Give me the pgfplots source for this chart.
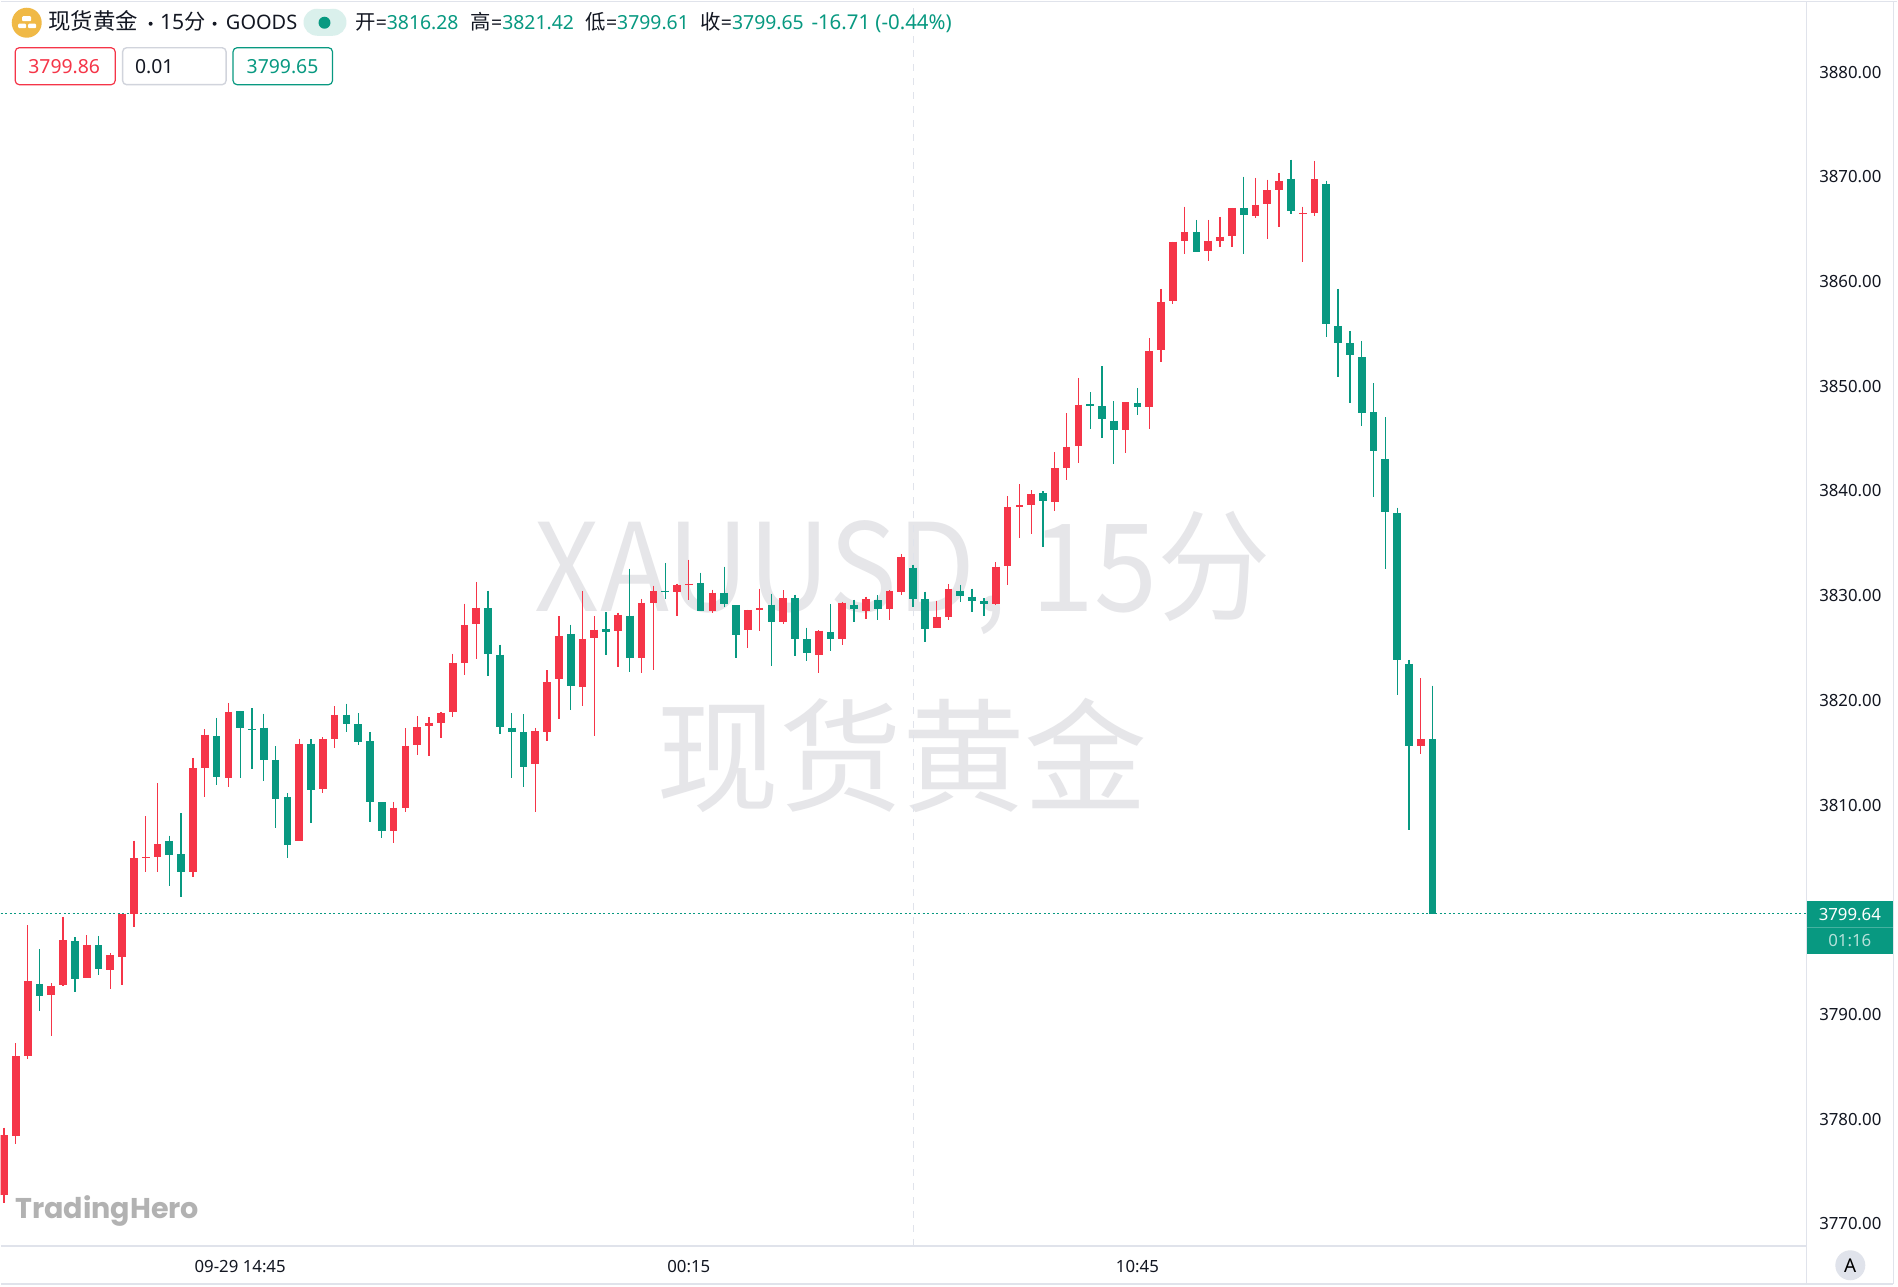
\documentclass[border=0pt]{standalone}
\usepackage{fontspec}
\usepackage{pgfplots}
\usepackage{pgfplotstable}
\pgfplotsset{compat=1.18}
\setmainfont{Noto Sans}
\newfontfamily\cjk{Noto Sans CJK SC}
\newfontfamily\logofont{Poppins}
\definecolor{barup}{HTML}{F53548}
\definecolor{bardown}{HTML}{089981}
\definecolor{frameline}{HTML}{E0E3EB}
\definecolor{boxline}{HTML}{D1D4DC}
\definecolor{ink}{HTML}{131722}
\definecolor{wmark}{HTML}{E6E6E9}
\definecolor{gold}{HTML}{F0B946}
\newcommand{\fs}[1]{\fontsize{#1}{#1}\selectfont}

% i high top bottom low
\pgfplotstableread{
i high top bot low
3 3796.23 3792.88 3791.80 3790.38
6 3797.38 3797.02 3793.44 3792.19
8 3797.51 3796.63 3794.39 3793.77
14 3807.08 3806.58 3805.24 3802.28
15 3809.21 3805.33 3803.63 3801.19
18 3818.32 3816.57 3812.70 3811.91
20 3819.01 3818.97 3817.40 3812.63
21 3819.24 3817.30 3817.20 3813.45
22 3818.74 3817.40 3814.34 3812.30
23 3815.62 3814.31 3810.63 3807.80
24 3811.15 3810.79 3806.16 3804.97
26 3816.31 3815.88 3811.48 3808.29
29 3819.70 3818.65 3817.70 3817.00
30 3818.75 3817.70 3816.05 3815.76
31 3817.00 3816.08 3810.29 3808.41
32 3810.29 3810.29 3807.52 3806.89
41 3830.49 3828.80 3824.44 3822.37
42 3825.33 3824.38 3817.48 3816.78
43 3818.78 3817.41 3816.97 3812.55
44 3818.69 3816.94 3813.60 3811.75
48 3827.24 3826.35 3821.33 3819.10
51 3828.42 3826.86 3826.51 3824.35
53 3832.59 3828.10 3824.03 3822.69
56 3833.13 3830.49 3830.33 3829.72
59 3832.20 3831.19 3828.58 3828.58
61 3832.78 3830.26 3829.18 3828.93
62 3829.09 3829.09 3826.26 3824.09
65 3830.20 3829.15 3827.50 3823.33
67 3830.11 3829.76 3825.91 3824.25
68 3826.96 3825.84 3824.48 3823.78
70 3829.18 3826.54 3825.84 3824.70
72 3829.63 3829.15 3828.71 3827.50
74 3830.04 3829.56 3828.74 3827.66
77 3832.97 3832.68 3829.66 3828.93
78 3830.38 3829.68 3826.85 3825.58
81 3831.02 3830.48 3829.94 3829.40
82 3830.67 3829.91 3829.46 3828.44
83 3829.75 3829.46 3829.24 3828.06
88 3839.96 3839.77 3839.03 3834.64
92 3849.44 3848.27 3848.11 3845.88
93 3851.89 3848.08 3846.84 3845.09
94 3848.55 3846.71 3845.79 3842.57
96 3849.85 3848.42 3847.98 3847.21
101 3865.88 3864.71 3862.86 3862.86
105 3870.02 3867.00 3866.33 3862.58
109 3871.64 3869.83 3866.71 3866.46
112 3869.64 3869.32 3855.90 3854.69
113 3859.30 3855.77 3854.15 3850.84
114 3855.29 3854.12 3852.97 3848.39
115 3854.34 3852.78 3847.42 3846.24
116 3850.27 3847.52 3843.82 3839.41
117 3847.05 3843.06 3837.95 3832.50
118 3838.42 3837.90 3823.82 3820.55
119 3823.87 3823.49 3815.67 3807.66
121 3821.42 3816.28 3799.65 3799.61
}\fallingbars

\pgfplotstableread{
i high top bot low
0 3779.21 3778.49 3772.80 3772.05
1 3787.26 3786.01 3778.39 3777.63
2 3798.53 3793.21 3786.04 3785.78
4 3792.98 3792.75 3791.86 3787.98
5 3799.32 3797.09 3792.81 3792.68
7 3797.55 3796.66 3793.50 3793.50
9 3795.84 3795.64 3794.29 3792.42
10 3799.65 3799.65 3795.54 3792.85
11 3806.62 3804.94 3799.65 3798.40
12 3808.95 3805.04 3804.91 3803.59
13 3812.07 3806.25 3805.07 3803.59
16 3814.50 3813.55 3803.59 3803.13
17 3817.26 3816.74 3813.58 3810.76
19 3819.76 3818.91 3812.56 3811.74
25 3816.34 3815.85 3806.62 3806.62
27 3816.46 3816.27 3811.50 3811.12
28 3819.45 3818.62 3816.33 3815.41
33 3810.32 3809.75 3807.52 3806.41
34 3817.35 3815.66 3809.75 3809.30
35 3818.49 3817.44 3815.70 3814.77
36 3818.37 3817.86 3817.54 3814.71
37 3818.88 3818.81 3817.83 3816.43
38 3824.47 3823.58 3818.88 3818.40
39 3829.25 3827.18 3823.58 3822.44
40 3831.31 3828.86 3827.27 3824.00
45 3817.38 3817.06 3813.88 3809.33
46 3822.88 3821.74 3817.00 3816.14
47 3828.04 3826.13 3822.09 3818.24
49 3830.45 3825.87 3821.26 3819.42
50 3828.04 3826.76 3825.97 3816.62
52 3828.39 3828.16 3826.61 3823.20
54 3829.69 3829.31 3824.03 3822.66
55 3830.96 3830.42 3829.31 3822.89
57 3831.16 3831.03 3830.36 3828.10
58 3833.45 3831.16 3831.06 3829.56
60 3830.58 3830.30 3828.58 3828.36
63 3828.67 3828.64 3826.70 3825.05
64 3830.68 3828.83 3828.61 3826.64
66 3830.52 3829.76 3827.47 3827.31
69 3826.70 3826.64 3824.38 3822.57
71 3829.41 3829.34 3825.84 3825.27
73 3829.91 3829.66 3828.58 3827.82
75 3830.52 3830.46 3828.77 3827.66
76 3833.99 3833.70 3830.36 3830.04
79 3829.52 3827.97 3826.95 3826.95
80 3831.08 3830.67 3827.93 3827.65
84 3833.21 3832.77 3829.21 3829.11
85 3839.48 3838.49 3832.86 3830.99
86 3840.62 3838.62 3838.46 3835.54
87 3840.05 3839.70 3838.68 3835.92
89 3843.68 3842.15 3838.94 3838.05
90 3847.43 3844.22 3842.22 3841.01
91 3850.81 3848.24 3844.29 3842.67
95 3848.46 3848.46 3845.79 3843.66
97 3854.62 3853.35 3847.98 3845.91
98 3859.30 3858.06 3853.42 3852.30
99 3863.82 3863.82 3858.12 3857.84
100 3867.16 3864.71 3863.85 3862.61
102 3865.88 3863.88 3862.93 3861.97
103 3866.20 3864.29 3863.88 3863.34
104 3867.03 3867.03 3864.33 3863.34
106 3869.89 3867.32 3866.30 3866.04
107 3869.73 3868.71 3867.38 3864.07
108 3870.37 3869.61 3868.78 3865.18
110 3867.16 3866.52 3866.42 3861.84
111 3871.51 3869.76 3866.55 3866.27
120 3822.12 3816.33 3815.62 3814.91
}\risingbars

\pgfplotsset{
  bar part/.style 2 args={draw=none, mark=none, forget plot,
    error bars/.cd, y dir=minus, y explicit, error mark=none,
    error bar style={solid, color=#1, line width=#2}},
}

\begin{document}
\begin{tikzpicture}
% picture coordinates in pixels of the reference, origin top left
\begin{scope}[x=0.5pt,y=-0.5pt]
  \path[use as bounding box, fill=white] (0,0) rectangle (1898,1287);
  \node[text=wmark, xscale=0.93, font=\cjk\fs{61}, inner sep=0] at (903,573) {XAUUSD, 15分};
  \node[text=wmark, font=\cjk\fs{61.5}, inner sep=0] at (902,755) {现货黄金};
\end{scope}

\begin{axis}[
  at={(0pt,-623pt)}, anchor=south west,
  scale only axis, width=903.5pt, height=623pt,
  xmin=-0.279, xmax=152.66, ymin=3767.92, ymax=3886.81,
  axis x line*=bottom, axis y line*=right,
  axis line style={-, draw=frameline, line width=0.75pt},
  major tick length=0pt,
  xtick={20,58,96},
  xticklabels={09-29 14:45,00:15,10:45},
  ytick={3770,3780,...,3880},
  /pgf/number format/.cd, fixed, fixed zerofill, precision=2, 1000 sep={}, assume math mode=true,
  /pgfplots/.cd,
  tick label style={font=\fs{8.4}, text=ink},
  xticklabel style={anchor=center, yshift=-10.2pt},
  yticklabel style={anchor=center, xshift=22pt},
  clip=true,
]
  \addplot[frameline, line width=0.6pt, dash pattern=on 3.5pt off 3.5pt, forget plot]
    coordinates {(77,3767.92) (77,3886.81)};
  \addplot[bardown, line width=0.6pt, dash pattern=on 1pt off 1.25pt, forget plot]
    coordinates {(-0.279,3799.64) (152.66,3799.64)};

  \addplot[bar part={barup}{0.65pt}] table[x=i, y=high, y error minus expr=\thisrow{high}-\thisrow{low}] {\risingbars};
  \addplot[bar part={barup}{3.85pt}] table[x=i, y=top, y error minus expr=\thisrow{top}-\thisrow{bot}] {\risingbars};
  \addplot[bar part={bardown}{0.65pt}] table[x=i, y=high, y error minus expr=\thisrow{high}-\thisrow{low}] {\fallingbars};
  \addplot[bar part={bardown}{3.85pt}] table[x=i, y=top, y error minus expr=\thisrow{top}-\thisrow{bot}] {\fallingbars};
\end{axis}

\begin{scope}[x=0.5pt,y=-0.5pt]
  % frame
  \draw[frameline, line width=0.75pt] (0,0.7) -- (1898,0.7);
  \draw[frameline, line width=0.75pt] (0,1284) -- (1894,1284);
  \draw[frameline, line width=0.75pt] (1807,1246) -- (1807,1284);
  \draw[frameline, line width=0.5pt] (1894,0) -- (1894,1284);

  % symbol icon
  \fill[gold] (26,22) circle (15);
  \fill[white, rounded corners=0.5pt] (21.5,15.5) rectangle (30.5,20.5);
  \fill[white, rounded corners=0.5pt] (17.5,23) rectangle (25.5,27.5);
  \fill[white, rounded corners=0.5pt] (27.5,23) rectangle (35.5,27.5);

  % header
  \node[anchor=base west, inner sep=0, text=ink, font=\cjk\fs{11.2}] at (47.5,29) {现货黄金};
  \fill[ink] (150,23) circle (2);
  \node[anchor=base west, inner sep=0, text=ink, font=\fs{10.6}] at (159,29) {15{\cjk 分}};
  \fill[ink] (214,23) circle (2);
  \node[anchor=base west, inner sep=0, text=ink, font=\fs{10}] at (225,29) {GOODS};
  \fill[bardown!15] (316.5,8) rectangle (332.5,35);
  \fill[bardown!15] (316.5,21.5) circle (13.5);
  \fill[bardown!15] (332.5,21.5) circle (13.5);
  \fill[bardown] (324,22) circle (6);

  \foreach \x/\lab/\val in {354.5/开/3816.28, 470/高/3821.42, 585/低/3799.61, 700/收/3799.65}{
    \node[anchor=base west, inner sep=0, text=ink, font=\fs{9.7}] at (\x,29)
      {{\cjk\fs{10.2}\lab}=\textcolor{bardown}{\val}};
  }
  \node[anchor=base west, inner sep=0, text=bardown, font=\fs{10.2}] at (811,29) {-16.71 (-0.44\%)};

  % order boxes
  \draw[barup, line width=0.6pt, rounded corners=2pt] (14.5,47) rectangle (114.5,84);
  \node[text=barup, font=\fs{9.7}, anchor=base, inner sep=0] at (63.5,73) {3799.86};
  \draw[boxline, line width=0.7pt, rounded corners=2pt] (122,47) rectangle (225.5,84);
  \node[text=ink, font=\fs{9.7}, anchor=base west, inner sep=0] at (134,73) {0.01};
  \draw[bardown, line width=0.6pt, rounded corners=2pt] (232.5,47) rectangle (332,84);
  \node[text=bardown, font=\fs{9.7}, anchor=base, inner sep=0] at (282,73) {3799.65};

  % last price tag
  \fill[bardown] (1807.5,901) rectangle (1894,954);
  \draw[white, opacity=0.25, line width=0.4pt] (1807.5,927) -- (1894,927);
  \node[text=white, font=\fs{8.4}, inner sep=0] at (1850.5,914) {3799.64};
  \node[text=white, opacity=0.7, font=\fs{8.4}, inner sep=0] at (1850.5,941) {01:16};

  % auto scale button
  \fill[frameline] (1851,1265.5) circle (15);
  \node[text=black, font=\fs{9.5}, inner sep=0] at (1851,1265.5) {A};

  % logo
  \node[anchor=base west, inner sep=0, text=black!30, font=\logofont\bfseries\fs{14.3}] at (14,1219) {TradingHero};
\end{scope}
\end{tikzpicture}
\end{document}
